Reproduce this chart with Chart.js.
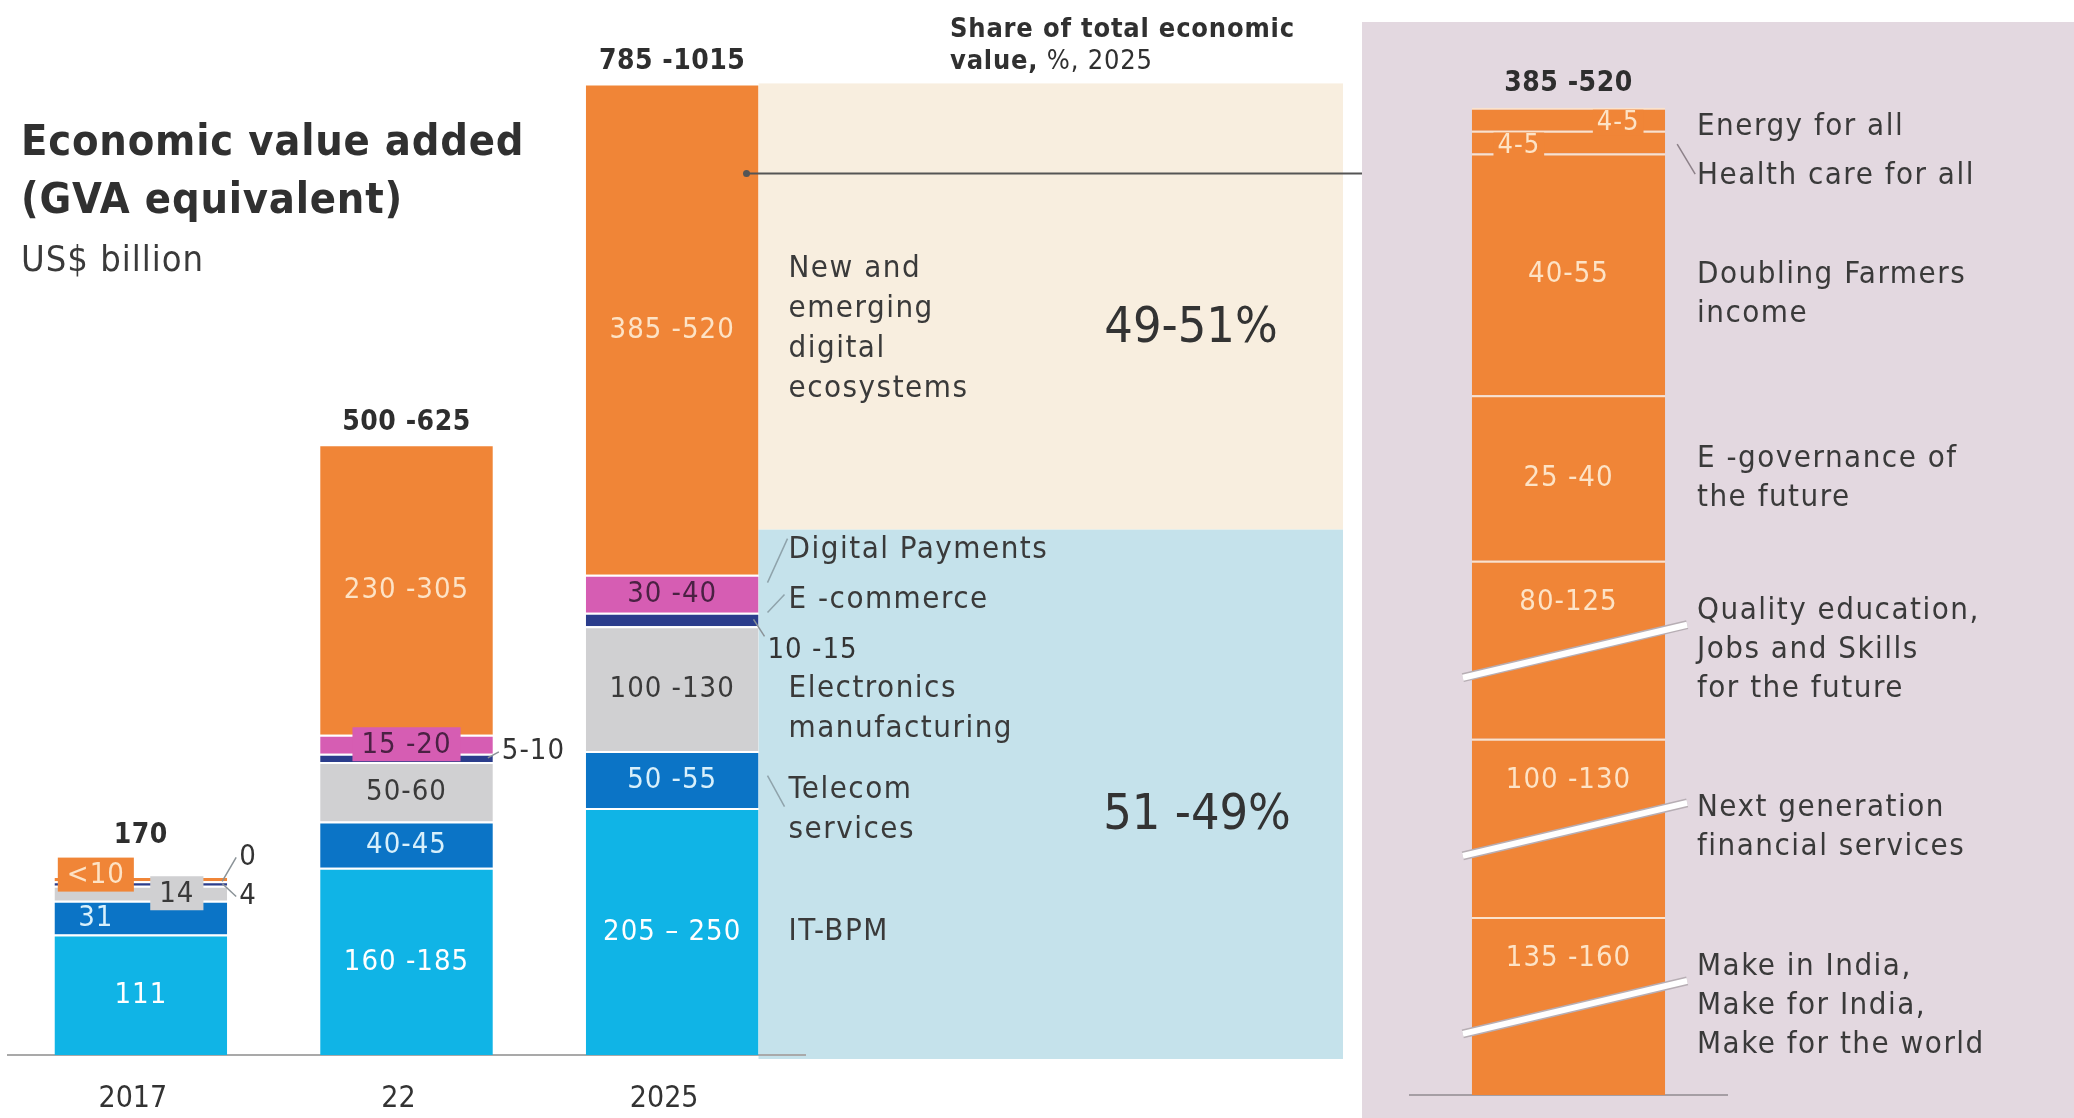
<!DOCTYPE html>
<html>
<head>
<meta charset="utf-8">
<title>Economic value added (GVA equivalent)</title>
<script src="https://cdn.jsdelivr.net/npm/chart.js@4.4.1/dist/chart.umd.min.js"></script>
<style>
  html, body { margin: 0; padding: 0; background: #fff; }
  body { position: relative; width: 2074px; height: 1118px; overflow: hidden;
         font-family: 'DejaVu Sans Condensed', 'DejaVu Sans', sans-serif; color: #333; }
  #leftCanvas { position: absolute; left: 0; top: 0; display: block; }
  #rightPanel { position: absolute; left: 1362px; top: 22px; width: 712px; height: 1096px; background: #e3d8e0; }
  #rightCanvas { display: block; }
  .title { position: absolute; left: 21px; top: 111px; font-size: 43px; font-weight: bold; line-height: 58px; letter-spacing: 0.8px; color: #303030; }
  .unit { position: absolute; left: 21px; top: 238px; font-size: 36px; line-height: 42px; letter-spacing: 1px; color: #3a3a3a; }
  .share { position: absolute; left: 950px; top: 12px; font-size: 27px; line-height: 32px; letter-spacing: 0.8px; color: #303030; }
</style>
</head>
<body>
<canvas id="leftCanvas" width="1362" height="1151"></canvas>
<div id="rightPanel"><canvas id="rightCanvas" width="712" height="1096"></canvas></div>
<div class="title">Economic value added<br>(GVA equivalent)</div>
<div class="unit">US$ billion</div>
<div class="share"><b>Share of total economic<br>value,</b> %, 2025</div>
<script>
// ---- data (US$ billion, ranges "low -high" as printed) ----
const years = ['2017', '22', '2025'];
const segmentNames = ['IT-BPM', 'Telecom services', 'Electronics manufacturing', 'E-commerce', 'Digital Payments', 'New and emerging digital ecosystems'];
const segmentLines = [['IT-BPM'], ['Telecom', 'services'], ['Electronics', 'manufacturing'], ['E -commerce'], ['Digital Payments'], ['New and', 'emerging', 'digital', 'ecosystems']];
const itBpm = ['111', '160 -185', '205 – 250'];
const telecom = ['31', '40-45', '50 -55'];
const electronics = ['14', '50-60', '100 -130'];
const ecommerce = ['4', '5-10', '10 -15'];
const payments = ['0', '15 -20', '30 -40'];
const emerging = ['<10', '230 -305', '385 -520'];
const totalLabels = ['170', '500 -625', '785 -1015'];
const shareLabels = ['49-51%', '51 -49%'];

// new and emerging digital ecosystems, 2025, by use case (bottom to top)
const useCaseLines = [
    ['Make in India,', 'Make for India,', 'Make for the world'],
    ['Next generation', 'financial services'],
    ['Quality education,', 'Jobs and Skills', 'for the future'],
    ['E -governance of', 'the future'],
    ['Doubling Farmers', 'income'],
    ['Health care for all'],
    ['Energy for all']
];
const useCases = ['135 -160', '100 -130', '80-125', '25 -40', '40-55', '4-5', '4-5'];
const useCaseTotal = '385 -520';

// ---- styling ----
const FONT = "'DejaVu Sans Condensed', 'DejaVu Sans', sans-serif";
Chart.defaults.font.family = FONT;
const sizeFont = (s, w) => (w || 'normal') + ' ' + s + 'px ' + FONT;

const segments = [itBpm, telecom, electronics, ecommerce, payments, emerging];
const segColors = ['#10b4e6', '#0b74c6', '#d0d0d2', '#2b3d8c', '#d65db3', '#f08537'];
const segText = ['#ffffff', '#d8f0fb', '#3a3a3a', '#ffffff', '#4a2143', '#fde3c6'];
const ORANGE = '#f08537';

// "160 -185" -> [160, 185], "<10" -> [0, 10], "111" -> [111, 111]
function parseRange(s) {
    if (s[0] === '<') return [0, Number(s.slice(1))];
    const p = s.split(/\s*[-–]\s*/).map(Number);
    return p.length > 1 ? p : [p[0], p[0]];
}
const midOf = s => { const r = parseRange(s); return (r[0] + r[1]) / 2; };

// thin segments get boxes or side labels
const thinLabels = {
    '5-0': { box: true, dx: -45, dy: -4 },
    '2-0': { box: true, dx: 36, dy: 0 },
    '1-0': { dx: -45 },
    '3-0': { side: true, dx: 12, dy: 13 },
    '4-0': { side: true, dx: 12, dy: -24 },
    '4-1': { box: true },
    '3-1': { side: true, dx: 9, dy: -6 },
    '3-2': { side: true, dx: 9, dy: 31, ly: -14 }
};
const panelDy = [0, 30, 20, -19, -44, 0];
const panelLeaders = { 1: [-4, 26, 17], 3: [-7, 26, -6], 4: [-11, 29, -11] };

// axis break for the right bar: segments above this are cut
const BREAK_ABOVE = 80;
const BREAK_SHOWN = 35;
const isBroken = i => midOf(useCases[i]) > BREAK_ABOVE;
const shownValue = i => isBroken(i) ? BREAK_SHOWN : midOf(useCases[i]);
const rightDy = [0, 0, 0, 0, 20, 34, 8];

function line(ctx, x1, y1, x2, y2) {
    ctx.beginPath();
    ctx.moveTo(x1, y1);
    ctx.lineTo(x2, y2);
    ctx.stroke();
}

function panelGeometry(chart) {
    const top = chart.getDatasetMeta(5).data[years.length - 1];
    const right = top.x + top.width / 2;
    return { right: right, panelRight: chart.width - 19, top: top.y, split: top.base - 45, bottom: chart.chartArea.bottom + 4 };
}

const leftLabels = {
    id: 'leftLabels',
    beforeDraw(chart) {
        const ctx = chart.ctx;
        const g = panelGeometry(chart);
        ctx.save();
        ctx.fillStyle = '#f8eedf';
        ctx.fillRect(g.right, g.top, g.panelRight - g.right, g.split - g.top);
        ctx.fillStyle = '#c5e2eb';
        ctx.fillRect(g.right, g.split, g.panelRight - g.right, g.bottom - g.split);
        ctx.restore();
    },
    afterDatasetsDraw(chart) {
        const ctx = chart.ctx;
        const last = years.length - 1;
        const topY = years.map(() => Infinity);
        ctx.save();
        ctx.textBaseline = 'middle';
        ctx.letterSpacing = '1px';

        segments.forEach((values, i) => {
            chart.getDatasetMeta(i).data.forEach((bar, j) => {
                const text = values[j];
                const right = bar.x + bar.width / 2;
                const cy = (bar.y + bar.base) / 2;
                const sp = thinLabels[i + '-' + j] || {};
                topY[j] = Math.min(topY[j], bar.y);
                ctx.font = sizeFont(29);
                if (sp.box) {
                    const w = ctx.measureText(text).width + 18, h = 34;
                    const x = bar.x + (sp.dx || 0), y = cy + (sp.dy || 0);
                    ctx.fillStyle = segColors[i];
                    ctx.fillRect(x - w / 2, y - h / 2, w, h);
                    ctx.fillStyle = segText[i];
                    ctx.textAlign = 'center';
                    ctx.fillText(text, x, y + 1);
                    topY[j] = Math.min(topY[j], y - h / 2);
                } else if (sp.side) {
                    const x = right + sp.dx, y = cy + (sp.dy || 0);
                    ctx.strokeStyle = '#8a9297';
                    ctx.lineWidth = 1.5;
                    line(ctx, right - 5, cy, x - 3, y + (sp.ly || 0));
                    ctx.fillStyle = '#333';
                    ctx.textAlign = 'left';
                    ctx.fillText(text, x, y);
                } else if (bar.base - bar.y >= 28) {
                    ctx.fillStyle = segText[i];
                    ctx.textAlign = 'center';
                    ctx.fillText(text, bar.x + (sp.dx || 0), cy + 1);
                }
            });
        });

        // totals above the bars
        ctx.font = sizeFont(28, 'bold');
        ctx.letterSpacing = '0.5px';
        ctx.fillStyle = '#2e2e2e';
        ctx.textAlign = 'center';
        chart.getDatasetMeta(5).data.forEach((bar, j) => ctx.fillText(totalLabels[j], bar.x, topY[j] - 22));

        // segment names next to the 2025 bar
        const g = panelGeometry(chart);
        const lastBars = segments.map((_, i) => chart.getDatasetMeta(i).data[last]);
        ctx.font = sizeFont(31);
        ctx.letterSpacing = '1.5px';
        ctx.textAlign = 'left';
        segmentLines.forEach((lines, i) => {
            const bar = lastBars[i];
            const cyBar = (bar.y + bar.base) / 2;
            const cy = cyBar + panelDy[i];
            const y0 = cy - (lines.length - 1) * 20;
            ctx.fillStyle = '#3a3a3a';
            lines.forEach((t, k) => ctx.fillText(t, g.right + 30, y0 + k * 40));
            const ld = panelLeaders[i];
            if (ld) {
                ctx.strokeStyle = '#8fa3ab';
                ctx.lineWidth = 1.5;
                line(ctx, g.right + 9, cyBar + ld[0], g.right + ld[1], y0 + ld[2]);
            }
        });

        // share of total value
        ctx.font = sizeFont(50);
        ctx.letterSpacing = '0px';
        ctx.fillStyle = '#333';
        ctx.textAlign = 'center';
        const ne = lastBars[5];
        ctx.fillText(shareLabels[0], g.panelRight - 152, (ne.y + ne.base) / 2);
        ctx.fillText(shareLabels[1], g.panelRight - 146, (g.split + g.bottom) / 2 + 22);

        // connector to the breakdown
        const cy = ne.y + 90;
        ctx.strokeStyle = '#555';
        ctx.lineWidth = 2;
        line(ctx, g.right - 12, cy, chart.width, cy);
        ctx.fillStyle = '#555';
        ctx.beginPath();
        ctx.arc(g.right - 12, cy, 3.5, 0, Math.PI * 2);
        ctx.fill();
        ctx.restore();
    }
};

new Chart(document.getElementById('leftCanvas'), {
    type: 'bar',
    data: {
        labels: years,
        datasets: segments.map((values, i) => ({
            label: segmentNames[i],
            data: values.map(midOf),
            backgroundColor: segColors[i],
            borderColor: 'rgba(255,255,255,0.8)',
            borderWidth: { top: 2, left: 0, right: 0, bottom: 0 },
            borderSkipped: false,
            barPercentage: 0.65,
            categoryPercentage: 1
        }))
    },
    options: {
        responsive: false,
        animation: false,
        events: [],
        layout: { padding: { left: 8, right: 557, top: 40, bottom: 8 } },
        plugins: { legend: { display: false }, tooltip: { enabled: false } },
        scales: {
            x: {
                stacked: true,
                grid: { display: false, drawTicks: false },
                border: { color: '#a9a9a9', width: 2 },
                ticks: { color: '#333', font: { size: 30 }, padding: 26, labelOffset: -8 }
            },
            y: { stacked: true, display: false, min: 0, max: 935 }
        }
    },
    plugins: [leftLabels]
});

const rightLabels = {
    id: 'rightLabels',
    afterDatasetsDraw(chart) {
        const ctx = chart.ctx;
        const bars = useCases.map((_, i) => chart.getDatasetMeta(i).data[0]);
        ctx.save();
        ctx.textBaseline = 'middle';
        bars.forEach((bar, i) => {
            const left = bar.x - bar.width / 2, right = bar.x + bar.width / 2;
            const cy = (bar.y + bar.base) / 2;
            const text = useCases[i];
            if (isBroken(i)) {
                ctx.lineCap = 'butt';
                ctx.strokeStyle = '#b7aeb4';
                ctx.lineWidth = 9;
                line(ctx, left - 9, cy + 28, right + 22, cy - 25);
                ctx.strokeStyle = '#ffffff';
                ctx.lineWidth = 6;
                line(ctx, left - 9, cy + 28, right + 22, cy - 25);
            }
            ctx.textAlign = 'center';
            ctx.letterSpacing = '1px';
            if (bar.base - bar.y > 60) {
                ctx.font = sizeFont(29);
                ctx.fillStyle = '#fde3c6';
                ctx.fillText(text, bar.x, isBroken(i) ? bar.y + 42 : cy);
            } else {
                // small segments: label sits on the lower edge
                ctx.font = sizeFont(27);
                const w = ctx.measureText(text).width + 8;
                const x = i % 2 ? left + 47 : right - 47;
                const y = bar.base - 8;
                ctx.fillStyle = ORANGE;
                ctx.fillRect(x - w / 2, y - 13, w, 26);
                ctx.fillStyle = '#fde3c6';
                ctx.fillText(text, x, y);
            }
            // use case names
            ctx.font = sizeFont(31);
            ctx.letterSpacing = '1.5px';
            ctx.fillStyle = '#3a3a3a';
            ctx.textAlign = 'left';
            const lines = useCaseLines[i];
            const y0 = cy + rightDy[i] - (lines.length - 1) * 19.5;
            lines.forEach((t, k) => ctx.fillText(t, 335, y0 + k * 39));
        });
        // leader for health care
        const hc = bars[5];
        const hcRight = hc.x + hc.width / 2;
        const hcY = (hc.y + hc.base) / 2;
        ctx.strokeStyle = '#8c8088';
        ctx.lineWidth = 1.5;
        line(ctx, hcRight + 12, hcY + 2, hcRight + 30, hcY + 32);
        // total
        const top = bars[bars.length - 1];
        ctx.font = sizeFont(28, 'bold');
        ctx.letterSpacing = '0.5px';
        ctx.fillStyle = '#2e2e2e';
        ctx.textAlign = 'center';
        ctx.fillText(useCaseTotal, top.x, top.y - 24);
        ctx.restore();
    }
};

new Chart(document.getElementById('rightCanvas'), {
    type: 'bar',
    data: {
        labels: ['2025'],
        datasets: useCases.map((v, i) => ({
            label: useCaseLines[i].join(' '),
            data: [shownValue(i)],
            backgroundColor: ORANGE,
            borderColor: '#fbe2cc',
            borderWidth: { top: 2, left: 0, right: 0, bottom: 0 },
            borderSkipped: false,
            barPercentage: 0.61,
            categoryPercentage: 1
        }))
    },
    options: {
        responsive: false,
        animation: false,
        events: [],
        layout: { padding: { left: 48, right: 347, top: 40, bottom: 23 } },
        plugins: { legend: { display: false }, tooltip: { enabled: false } },
        scales: {
            x: {
                stacked: true,
                grid: { display: false, drawTicks: false },
                ticks: { display: false },
                border: { color: '#a59ea4', width: 2 }
            },
            y: { stacked: true, display: false, min: 0, max: 203 }
        }
    },
    plugins: [rightLabels]
});
</script>
</body>
</html>
